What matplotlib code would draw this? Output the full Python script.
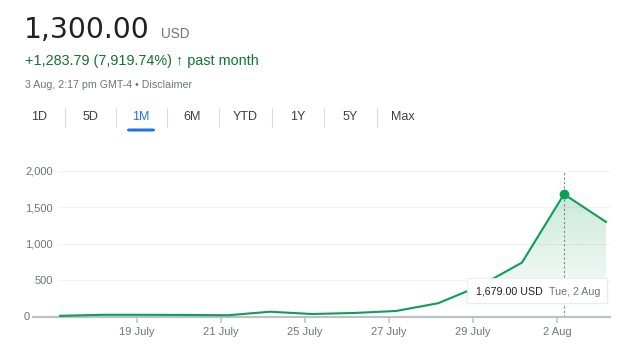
import matplotlib
matplotlib.use('Agg')
import matplotlib.pyplot as plt
import numpy as np
from matplotlib.patches import FancyBboxPatch
from matplotlib.lines import Line2D

plt.rcParams['font.family'] = ['Liberation Sans', 'DejaVu Sans']

# price points, one per trading day
day_labels = ['Fri, 15 Jul', 'Mon, 18 Jul', 'Tue, 19 Jul', 'Wed, 20 Jul', 'Thu, 21 Jul',
              'Fri, 22 Jul', 'Mon, 25 Jul', 'Tue, 26 Jul', 'Wed, 27 Jul', 'Thu, 28 Jul',
              'Fri, 29 Jul', 'Mon, 1 Aug', 'Tue, 2 Aug', 'Wed, 3 Aug']
prices = [16.21, 30, 30, 28, 24, 72, 41, 55, 82, 188, 425, 744, 1679, 1300]

# x axis ticks (index of the trading day they belong to)
tick_idx = [2, 4, 6, 8, 10, 12]
tick_labels = ['19 July', '21 July', '25 July', '27 July', '29 July', '2 Aug']
yticks = [500, 1000, 1500, 2000]

ranges = ['1D', '5D', '1M', '6M', 'YTD', '1Y', '5Y', 'Max']
active_range = '1M'

hover = 12  # hovered point (2 Aug)

W, H = 622, 351
GREEN = '#0f9d58'
GREY = '#70757a'

fig = plt.figure(figsize=(W / 100, H / 100), dpi=100)

def fx(x):
    return x / W

def fy(y):
    return 1 - y / H

# header
fig.text(fx(24), fy(38), '1,300.00', fontsize=20.3, color='#202124', va='baseline',
         family='DejaVu Sans')
fig.text(fx(161), fy(38), 'USD', fontsize=9.8, color=GREY, va='baseline')
fig.text(fx(25), fy(65), '+1,283.79 (7,919.74%) \u2191 past month', fontsize=10.4,
         color='#137333', va='baseline')
fig.text(fx(25), fy(87.5), '3 Aug, 2:17 pm GMT-4 \u2022 Disclaimer', fontsize=7.7,
         color=GREY, va='baseline')

# range tabs
tab_x = [39, 90, 141, 192, 245, 298, 350, 403]
for i, (lab, x) in enumerate(zip(ranges, tab_x)):
    col = '#1a73e8' if lab == active_range else '#3c4043'
    fig.text(fx(x), fy(117), lab, fontsize=9, color=col, ha='center', va='center')
    if i < len(ranges) - 1:
        sx = (x + tab_x[i + 1]) / 2
        fig.add_artist(Line2D([fx(sx), fx(sx)], [fy(108), fy(127)], color='#dadce0', lw=0.8))
    if lab == active_range:
        fig.add_artist(FancyBboxPatch((fx(x - 14), fy(131.5)), 28 / W, 3 / H,
                                      boxstyle='round,pad=0,rounding_size=0.004',
                                      fc='#1a73e8', ec='none'))

# chart area
x0, x1 = 58, 611
ax = fig.add_axes([fx(x0), fy(317), (x1 - x0) / W, (317 - 170.7) / H])
xs = np.arange(len(prices))
ax.set_xlim((x0 - 60) / 42, (x1 - 60) / 42)
ax.set_ylim(0, 2000)

# gradient fill under the line
fill = ax.fill_between(xs, prices, 0, color='none', lw=0)
grad = np.zeros((256, 2, 4))
grad[:, :, 0] = 15 / 255
grad[:, :, 1] = 157 / 255
grad[:, :, 2] = 88 / 255
grad[:, :, 3] = np.linspace(0, 0.22, 256)[:, None]
img = ax.imshow(grad, extent=[xs[0], xs[-1], 0, max(prices)], origin='lower',
                aspect='auto', zorder=1)
img.set_clip_path(fill.get_paths()[0], transform=ax.transData)

ax.plot(xs, prices, color=GREEN, lw=1.5, zorder=3, solid_joinstyle='round')
ax.plot(xs[hover], prices[hover], 'o', color=GREEN, ms=6, zorder=4)
ax.axvline(xs[hover], color='#80868b', lw=0.8, ls=(0, (2, 2)), zorder=2)

for s in ax.spines.values():
    s.set_visible(False)
ax.set_yticks(yticks)
ax.set_yticklabels([f'{v:,}' for v in yticks])
ax.yaxis.grid(True, color='#f1f3f4', lw=0.8)
ax.tick_params(axis='y', length=0, pad=3.8, labelsize=8, labelcolor=GREY)
ax.text((30 - x0) / (x1 - x0), 0, '0', transform=ax.get_yaxis_transform(),
        ha='right', va='center', fontsize=8, color=GREY)
ax.plot([(32 - x0) / (x1 - x0), 1], [0, 0], transform=ax.get_yaxis_transform(),
        color='#bdc1c6', lw=1.6, clip_on=False, zorder=2, solid_capstyle='butt')

ax.set_xticks([t - 0.17 for t in tick_idx])
ax.set_xticklabels(tick_labels)
ax.tick_params(axis='x', direction='out', length=4.5, width=1.1, color='#bdc1c6',
               pad=2.5, labelsize=8, labelcolor=GREY)
ax.set_axisbelow(True)

# tooltip
fig.add_artist(FancyBboxPatch((fx(468.3), fy(303.8)), 140 / W, 25 / H,
                              boxstyle='round,pad=0,rounding_size=0.003',
                              fc='#e8e8e8', ec='none', alpha=0.6, zorder=5))
fig.add_artist(FancyBboxPatch((fx(467.3), fy(303.3)), 140 / W, 25 / H,
                              boxstyle='round,pad=0,rounding_size=0.003',
                              fc='white', ec='#e6e6e6', lw=0.5, zorder=6))
fig.text(fx(476), fy(291.7), f'{prices[hover]:,.2f} USD', fontsize=7.7, color='#202124',
         va='center', zorder=7)
fig.text(fx(549.3), fy(291.7), day_labels[hover], fontsize=7.7, color=GREY,
         va='center', zorder=7)

fig.savefig('out.png', dpi=100)
